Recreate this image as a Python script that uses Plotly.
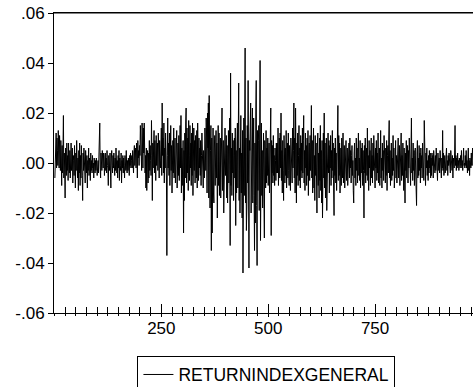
import plotly.graph_objects as go

# Returns in thousandths (value / 1000), observations 1..980, read segment by segment
seg_001_100 = [
    -6, 8, 3, 12, -2, 10, 5, -1, 13, 4, -2, 11, 6, -3, 9, 2, -9, 7, -4, 5,
    19, -6, 4, -2, -14, 6, 0, -5, 8, -3, 3, -7, 8, -1, -4, 5, -6, 2, 8, -3,
    -2, 6, -8, 1, 3, -5, 7, -2, -10, 4, -3, 9, -1, -6, 2, -11, 5, -4, 8, -9,
    3, -6, 7, -2, -5, -15, 4, -3, 6, -1, 2, -8, 5, -2, -4, 3, -10, 1, -3, 6,
    -5, 2, -1, -7, 4, -3, 1, -4, 3, -2, 0, -6, 2, -1, -4, 1, -3, 2, 0, -5,
]
seg_101_180 = [
    -2, 1, -4, 3, -1, 16, -2, -6, 4, 2, -3, 5, 0, -2, 4, 3, -5, 1, 4, -3,
    2, -4, 5, -1, -2, -9, 3, 1, -3, 4, -2, -10, 2, 5, -1, -4, 3, -2, 4, 0,
    -5, 2, -3, 6, -1, -4, 1, -6, 3, -2, 5, -7, 2, -1, -3, 4, -8, 1, -2, 3,
    -4, 2, -1, -6, 3, 0, -3, 5, -2, -4, 1, -3, 2, 0, -5, 3, -1, 4, -2, 1,
]
seg_181_240 = [
    3, -2, 5, 1, -4, 4, 7, -1, 3, 6, -2, 8, 4, -6, 9, 2, 5, -1, 7, 3,
    15, 2, 10, -3, 16, 6, -2, 14, 4, 16, 8, -4, 3, -10, 6, -11, 2, 5, -8, 4,
    -6, 9, -3, 7, 1, -5, 17, 3, -15, 8, -2, 6, 13, -4, 9, 2, -7, 11, -1, 5,
]
seg_241_300 = [
    8, -3, 12, 6, -6, 9, 1, -2, 7, 14, -5, 24, 3, 10, -4, 16, -8, 6, -2, 12,
    4, -6, -37, 3, 18, -2, 8, -5, 12, -9, 4, 15, -3, 7, -12, 5, 9, -4, 14, -6,
    2, 10, -8, 6, -3, 13, -10, 4, 8, -5, 11, -7, 3, 15, -2, 19, -12, 6, -9, 4,
]
seg_301_360 = [
    9, -28, 5, -15, 12, -6, 16, 22, -8, 14, -4, 10, -11, 17, 3, -7, 15, -2, 8, -9,
    12, -5, 16, -13, 6, 14, -3, 9, -8, 11, 2, -6, 13, -10, 16, 4, -7, 10, -2, 6,
    -5, 9, -9, 3, 12, -4, 7, -10, 5, 2, -6, 14, 8, -3, 18, 10, -12, 20, 6, 24,
]
seg_361_520 = [
    -14, 27, 8, -18, 5, 15, -35, 10, -28, 3, 14, -12, -16, 6, 11, -9, 4, 13, -6, 8,
    -22, 2, 15, -9, 12, -13, 5, 10, -14, 1, 8, 22, -11, 4, 9, -20, 6, -10, 14, -5,
    3, 11, -14, 7, -16, 5, 13, -8, 2, 18, -33, 36, -9, 6, -13, 12, -4, 9, -15, 3,
    10, -6, 14, -25, 5, -12, 8, 16, -10, 3, 32, -15, 6, -20, 9, 19, -12, 4, -22, 13,
    -44, 8, 18, -13, 5, 46, -16, 10, -27, -18, 15, -8, 33, -13, -42, 9, 5, 16, 24, -20,
    12, -10, 22, -16, 6, 18, -13, -35, 8, -24, 20, 33, -17, -41, 13, -11, 9, 15, -19, 6,
    41, -31, 11, 16, -13, 5, -18, 8, 12, -14, -30, 9, 4, -10, 13, -8, 6, -5, 10, -9,
    3, 8, -12, 5, -7, 22, -29, 9, -4, 7, -8, 11, -5, 3, -9, 6, 1, -7, 8, -4,
]
seg_521_680 = [
    8, -4, 14, -9, 3, 10, -6, 12, -2, 20, -7, 5, -12, 9, -3, -15, 11, 4, -8, 6,
    -5, 13, -10, 2, 8, -6, 12, -3, -9, 7, 1, -11, 10, -4, 6, -8, 14, -2, 5, 24,
    -6, 10, -12, 22, 4, -16, 8, -5, 12, -9, 3, 15, -7, 6, -10, 11, -3, 8, -6, 14,
    -4, 9, 19, -8, 5, -11, 12, -2, 7, -9, 10, -5, 13, -13, 4, 8, -7, 11, -3, 6,
    23, -6, 9, -12, 5, 14, -10, 3, -15, 11, -5, 8, -18, -20, 6, 12, -9, 4, -14, 10,
    -7, 15, -11, 5, -16, 9, -22, 4, 12, -6, 20, -10, 8, -14, 3, 10, -19, 6, -8, 12,
    -4, 9, -12, 7, -2, 11, -9, 5, -6, 13, -3, 8, -10, -21, 6, -5, 10, -8, 4, -11,
    9, -3, 23, -7, 11, -5, 8, -12, 4, 6, -9, 10, -2, -6, 12, -8, 3, 7, -10, 5,
]
seg_681_800 = [
    -4, 9, -7, 2, 6, -9, 4, -3, 8, -6, 10, -2, 5, -8, 3, 7, -5, 1, -11, -16,
    4, 8, -6, 2, -9, 10, -3, 6, -8, 4, 12, -5, 2, -7, 9, -10, 3, 6, -4, 8,
    -9, 5, -3, -22, 7, -4, 10, -8, 2, 6, -5, 14, -7, 3, -11, 9, -2, 5, -9, 4,
    10, -6, 3, -8, 8, -3, 11, -5, 2, -10, 6, -2, 9, -7, 4, -4, 12, -8, 3, 6,
    -9, 4, 13, -6, 2, -10, 8, -3, 5, -7, 11, -2, 4, -8, 6, -5, 9, -11, 3, 7,
    -4, 10, 17, -6, 5, -9, 3, 8, -7, 2, -5, 11, -3, 6, -10, 4, -2, 9, -6, 3,
]
seg_801_880 = [
    -8, 5, -3, 10, -6, 2, 7, -9, 4, -4, 12, -7, 3, -5, 8, -2, -11, 6, -15, -16,
    4, -3, 9, -6, 2, 7, -8, 5, -2, 10, -5, 3, -9, 6, 18, -4, 2, -7, 8, -3,
    5, -9, 3, 6, -4, -10, -17, 4, 9, -6, 2, -5, 7, -3, 4, -8, 6, -2, 3, -6,
    8, -4, 2, -7, 17, -3, 5, -9, 4, -2, 6, -5, 1, -7, 3, -4, 5, -2, 4, -6,
]
seg_881_980 = [
    2, -5, 4, -1, 3, -6, 5, -2, 1, -4, 3, -3, 6, -2, 2, -7, 4, 0, -3, 2,
    -4, 5, -1, 3, -6, 2, -2, 13, -3, 4, -5, 1, 3, -4, 2, -2, 6, -3, 1, -5,
    3, -1, 4, -2, 2, -4, 5, -1, 1, -3, 3, -6, 2, 0, -2, 4, 15, -1, 3, -3,
    2, -2, 4, -1, 1, -3, 2, 0, -2, 3, -1, 5, -2, 1, -3, 2, 6, -1, 0, -2,
    3, -1, 5, -2, 1, -4, 2, 6, -3, 1, -5, 2, 0, -2, 4, -1, 2, 6, -1, 1,
]

series_name = "RETURNINDEXGENERAL"
y_tickvals = [-0.06, -0.04, -0.02, 0.0, 0.02, 0.04, 0.06]
y_ticktext = ["-.06", "-.04", "-.02", ".00", ".02", ".04", ".06"]
x_tickvals = [250, 500, 750]

thousandths = (seg_001_100 + seg_101_180 + seg_181_240 + seg_241_300 + seg_301_360
               + seg_361_520 + seg_521_680 + seg_681_800 + seg_801_880 + seg_881_980)
returns = [v / 1000.0 for v in thousandths]
obs = list(range(1, len(returns) + 1))

FONT = "Liberation Sans, Arial, Helvetica, sans-serif"
FS = 17

fig = go.Figure()
fig.add_trace(go.Scatter(x=obs, y=returns, mode="lines", name=series_name,
                         line=dict(color="black", width=1)))
# helper trace so the overlay axis (outer tick stubs) is drawn
fig.add_trace(go.Scatter(x=obs[:1], y=returns[:1], xaxis="x2", mode="lines",
                         line=dict(color="rgba(0,0,0,0)", width=0), showlegend=False,
                         hoverinfo="skip"))

xr = [-1, 979]
fig.update_layout(
    template="none",
    width=473, height=387,
    margin=dict(l=54, r=0, t=13, b=74, pad=0, autoexpand=False),
    paper_bgcolor="white", plot_bgcolor="white",
    font=dict(family=FONT, size=FS, color="black"),
    showlegend=True,
    legend=dict(orientation="h", x=0.507, xanchor="center", y=-0.142, yanchor="top",
                bordercolor="black", borderwidth=1, bgcolor="white",
                font=dict(family=FONT, size=17.5, color="black"),
                itemwidth=30, tracegroupgap=0),
    xaxis=dict(range=xr, tickmode="array", tickvals=x_tickvals, automargin=False,
               ticks="inside", ticklen=9, tickwidth=1, tickcolor="black",
               minor=dict(dtick=25, tick0=0, ticks="inside", ticklen=6,
                          tickwidth=1, tickcolor="black"),
               showline=True, linecolor="black", linewidth=1, mirror=True,
               showgrid=False, zeroline=False,
               tickfont=dict(family=FONT, size=FS, color="black")),
    xaxis2=dict(range=xr, overlaying="x", anchor="y", side="bottom", automargin=False,
                tickmode="array", tickvals=x_tickvals, showticklabels=False,
                ticks="outside", ticklen=3, tickwidth=1, tickcolor="black",
                minor=dict(dtick=25, tick0=0, ticks="outside", ticklen=2,
                           tickwidth=1, tickcolor="black"),
                showline=False, showgrid=False, zeroline=False),
    yaxis=dict(range=[-0.06, 0.06], tickmode="array", tickvals=y_tickvals,
               ticktext=y_ticktext, ticks="outside", ticklen=5, tickwidth=1,
               automargin=False,
               tickcolor="black", showline=True, linecolor="black", linewidth=1,
               mirror=False, showgrid=False, zeroline=False,
               tickfont=dict(family=FONT, size=FS, color="black")),
    shapes=[dict(type="line", xref="paper", yref="paper", x0=0, x1=1, y0=1, y1=1,
                 line=dict(color="black", width=1))],
)

# remove the browser's default 8px body margin so the figure sits at the page origin
fig.write_html("out.html",
               config={"displayModeBar": False},
               post_script="document.body.style.margin='0px';document.body.style.overflow='hidden';")
